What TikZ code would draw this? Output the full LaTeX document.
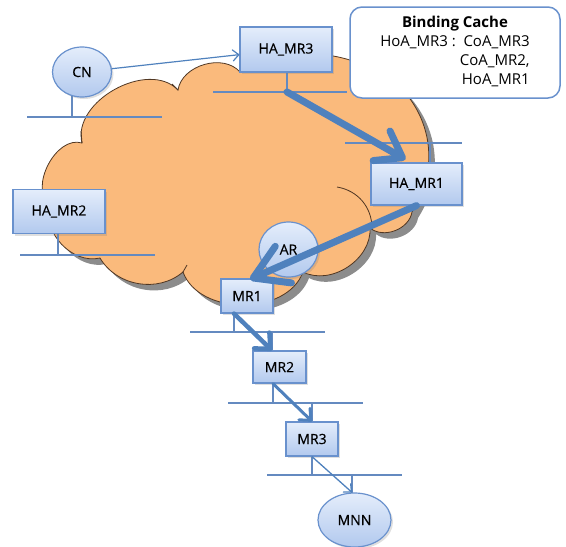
\documentclass[tikz,border=0pt]{standalone}
\usepackage{fontspec}
\setmainfont{Open Sans}
\newfontfamily\nodefont[FakeBold=0.4]{Open Sans}
\usetikzlibrary{shapes.geometric,arrows.meta,shadows,backgrounds}

\definecolor{cloudfill}{RGB}{250,186,124}
\definecolor{cloudline}{RGB}{80,55,35}
\definecolor{cloudshadow}{RGB}{140,140,140}
\definecolor{busline}{RGB}{100,138,192}
\definecolor{linkblue}{RGB}{79,129,189}
\definecolor{boxtop}{RGB}{228,237,251}
\definecolor{boxbottom}{RGB}{178,201,238}
\definecolor{boxline}{RGB}{105,145,205}

\newcommand{\cloudoutline}{(82,143) to[bend left=75] (178,90) to[bend left=65] (240,72)
  to[bend left=30] (395,82) to[bend left=40] (412,212) to[bend left=60] (370,228)
  to[bend left=60] (303,272) to[bend left=70] (183,272) to[bend left=50] (100,258)
  to[bend left=60] (50,205) to[bend left=80] (82,143) -- cycle}

\tikzset{
  router/.style={rectangle, draw=boxline, line width=1.2pt, top color=boxtop, bottom color=boxbottom,
    inner sep=0pt, font=\nodefont\fontsize{14}{16}\selectfont,
    drop shadow={shadow xshift=2pt, shadow yshift=-2pt, opacity=.25}},
  host/.style={ellipse, draw=boxline, line width=1.2pt, top color=boxtop, bottom color=boxbottom,
    inner sep=0pt, font=\nodefont\fontsize{14}{16}\selectfont,
    drop shadow={shadow xshift=2pt, shadow yshift=-2pt, opacity=.25}},
  bus/.style={draw=busline, line width=2pt},
  flow/.style={draw=linkblue, line cap=round}
}

\begin{document}
\begin{tikzpicture}[x=1pt, y=-1pt]
  \useasboundingbox (0,0) rectangle (566,547);

  % hosts and routers
  \node[host, minimum width=59pt, minimum height=50pt] (cn) at (82,72) {CN};
  \node[router, minimum width=92pt, minimum height=45pt] (hamr3) at (286,49.5) {HA\_MR3};
  \node[router, minimum width=91pt, minimum height=42pt] (hamr1) at (416.5,184) {HA\_MR1};
  \node[router, minimum width=92pt, minimum height=44pt] (hamr2) at (59,211.5) {HA\_MR2};
  \node[host, minimum width=59pt, minimum height=55pt] (ar) at (288.5,249.5) {AR};
  \node[router, minimum width=52pt, minimum height=34pt] (mr1) at (247,296) {MR1};
  \node[router, minimum width=53pt, minimum height=32pt] (mr2) at (279.5,367) {MR2};
  \node[router, minimum width=52pt, minimum height=34pt] (mr3) at (312,439) {MR3};
  \node[host, minimum width=73pt, minimum height=54pt] (mnn) at (354.5,520) {MNN};

  \node[draw=boxline, line width=1.5pt, fill=white, rounded corners=12pt,
        minimum width=210pt, minimum height=91pt, inner sep=0pt,
        font=\fontsize{15}{19}\selectfont] (cache) at (455,52.5)
    {\begin{tabular}{@{}l@{\ }r@{}}
       \multicolumn{2}{c}{\textbf{Binding Cache}}\\
       HoA\_MR3 : & CoA\_MR3\\
                  & CoA\_MR2,\\
                  & HoA\_MR1
     \end{tabular}};

  % bus taps
  \coordinate (cntap) at (72,117);
  \coordinate (hamr3tap) at (287,92);
  \coordinate (hamr1tap) at (430,143);
  \coordinate (hamr2tap) at (58,255);
  \coordinate (mr1tap) at (234,332);
  \coordinate (mr2top) at (272,332);
  \coordinate (mr2tap) at (273,403);
  \coordinate (mr3top) at (312,403);
  \coordinate (mr3tap) at (312,475);
  \coordinate (mnntop) at (352,475);

  \begin{scope}[on background layer]
    \fill[cloudshadow, shift={(6,6)}] \cloudoutline;
    \filldraw[fill=cloudfill, draw=cloudline, line width=.8pt] \cloudoutline;
    \draw[cloudline, line width=.8pt] (337,187) to[bend left=40] (372,228);
    \draw[cloudline, line width=.8pt] (183,272) -- (187,265);
    \draw[cloudline, line width=.8pt] (82,143) -- (81,131);
    \draw[cloudline, line width=.8pt] (178,90) -- (172,84);

    \draw[bus] (27,117) -- (162,117);
    \draw[bus] (213,92) -- (347,92);
    \draw[bus] (345,143) -- (462,143);
    \draw[bus] (20,255) -- (155,255);
    \draw[bus] (190,332) -- (325,332);
    \draw[bus] (228,403) -- (363,403);
    \draw[bus] (267,475) -- (402,475);

    \draw[bus] (cntap) -- (cntap |- cn.center);
    \draw[bus] (hamr3tap) -- (hamr3tap |- hamr3.center);
    \draw[bus] (hamr1tap) -- (hamr1tap |- hamr1.center);
    \draw[bus] (hamr2tap) -- (hamr2tap |- hamr2.center);
    \draw[bus] (mr1tap) -- (mr1tap |- mr1.center);
    \draw[bus] (mr2top) -- (mr2top |- mr2.center);
    \draw[bus] (mr2tap) -- (mr2tap |- mr2.center);
    \draw[bus] (mr3top) -- (mr3top |- mr3.center);
    \draw[bus] (mr3tap) -- (mr3tap |- mr3.center);
    \draw[bus] (mnntop) -- (mnntop |- mnn.center);
  \end{scope}

  % signalling path
  \draw[flow, line width=1.2pt, -{Straight Barb[length=6pt, width=11pt, round]}] (cn) -- (hamr3);
  \draw[flow, line width=7pt, -{Straight Barb[length=24pt, width=34pt, round]}]
    (hamr3tap) -- ([xshift=-11pt, yshift=3pt]hamr1.north);
  \draw[flow, line width=7pt, -{Straight Barb[length=33pt, width=40pt, round]}]
    (hamr1.south) -- ([xshift=3pt, yshift=-1pt]mr1.north);
  \draw[flow, line width=4.5pt, -{Straight Barb[length=12pt, width=22pt, round]}]
    (mr1tap |- mr1.south) -- (mr2top |- mr2.north);
  \draw[flow, line width=3pt, -{Straight Barb[length=9pt, width=16pt, round]}]
    (mr2tap |- mr2.south) -- (mr3top |- mr3.north);
  \draw[flow, line width=1.3pt, -{Straight Barb[length=6pt, width=11pt, round]}]
    (mr3tap |- mr3.south) -- (mnntop |- mnn.north);
\end{tikzpicture}
\end{document}
